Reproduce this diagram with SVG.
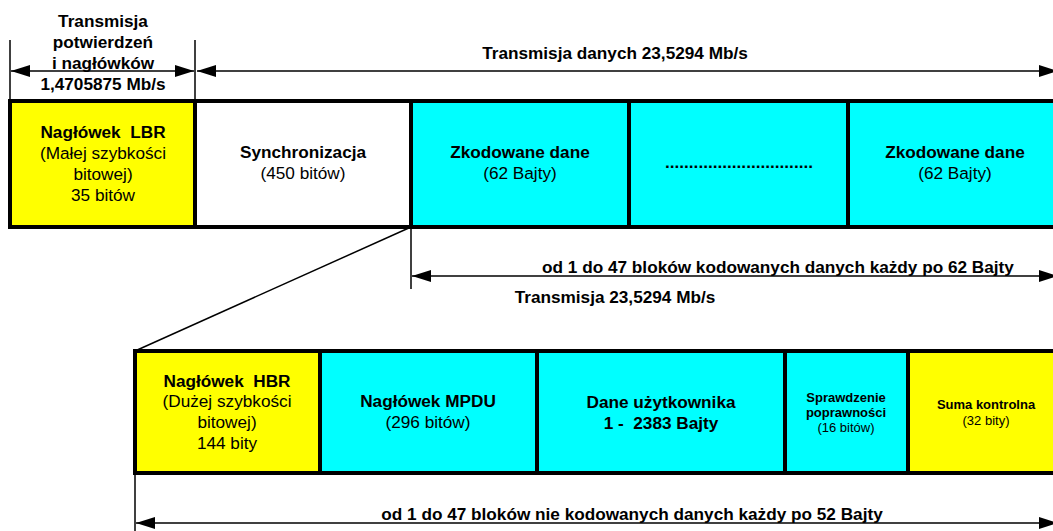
<svg xmlns="http://www.w3.org/2000/svg" width="1053" height="531" viewBox="0 0 1053 531">
<style>
text{font-family:"Liberation Sans",Arial,sans-serif;font-size:17.2px;fill:#000;text-anchor:middle;white-space:pre}
.b{font-weight:bold}
.s{font-size:13px}
.box{stroke:#000;stroke-width:4}
.y{fill:#ffff00}.c{fill:#00ffff}.w{fill:#fff}
.ln{stroke:#000;stroke-width:1.5;fill:none}
</style>
<defs>
<marker id="ah" markerUnits="userSpaceOnUse" markerWidth="19" markerHeight="12" refX="19" refY="6" orient="auto-start-reverse"><path d="M0,0 L19,6 L0,12 z" fill="#000"/></marker>
</defs>
<g id="connectors">
<line class="ln" x1="10" y1="40" x2="10" y2="101"/>
<line class="ln" x1="195" y1="40" x2="195" y2="101"/>
<line class="ln" x1="11" y1="71" x2="194" y2="71" marker-start="url(#ah)" marker-end="url(#ah)"/>
<line class="ln" x1="197" y1="71" x2="1058" y2="71" marker-start="url(#ah)" marker-end="url(#ah)"/>
<line class="ln" x1="411" y1="227" x2="411" y2="289"/>
<line class="ln" x1="411" y1="227" x2="135" y2="351"/>
<line class="ln" x1="412" y1="276" x2="1058" y2="276" marker-start="url(#ah)" marker-end="url(#ah)"/>
<line class="ln" x1="135" y1="473" x2="135" y2="531"/>
<line class="ln" x1="136" y1="523" x2="1058" y2="523" marker-start="url(#ah)" marker-end="url(#ah)"/>
</g>
<g id="labels">
<text class="b" x="103" y="27">Transmisja</text>
<text class="b" x="103" y="48">potwierdzeń</text>
<text class="b" x="103" y="69">i nagłówków</text>
<text class="b" x="103" y="90">1,4705875 Mb/s</text>
<text class="b" x="615" y="59">Transmisja danych 23,5294 Mb/s</text>
<text class="b" x="778" y="273">od 1 do 47 bloków kodowanych danych każdy po 62 Bajty</text>
<text class="b" x="615" y="303">Transmisja 23,5294 Mb/s</text>
<text class="b" x="632" y="520">od 1 do 47 bloków nie kodowanych danych każdy po 52 Bajty</text>
</g>
<g id="lbr">
<rect class="box y" x="10" y="101" width="185" height="126"/>
<text class="b" x="103" y="138">Nagłówek  LBR</text>
<text x="103" y="159">(Małej szybkości</text>
<text x="103" y="180">bitowej)</text>
<text x="103" y="201">35 bitów</text>
</g>
<g id="sync">
<rect class="box w" x="195" y="101" width="216" height="126"/>
<text class="b" x="303" y="158">Synchronizacja</text>
<text x="303" y="179">(450 bitów)</text>
</g>
<g id="coded1">
<rect class="box c" x="411" y="101" width="218" height="126"/>
<text class="b" x="520" y="158">Zkodowane dane</text>
<text x="520" y="179">(62 Bajty)</text>
</g>
<g id="coded-dots">
<rect class="box c" x="629" y="101" width="219" height="126"/>
<text class="b" x="739" y="168">...............................</text>
</g>
<g id="coded2">
<rect class="box c" x="848" y="101" width="216" height="126"/>
<text class="b" x="955" y="158">Zkodowane dane</text>
<text x="955" y="179">(62 Bajty)</text>
</g>
<g id="hbr">
<rect class="box y" x="135" y="351" width="185" height="122"/>
<text class="b" x="227" y="387">Nagłówek  HBR</text>
<text x="227" y="407">(Dużej szybkości</text>
<text x="227" y="428">bitowej)</text>
<text x="227" y="449">144 bity</text>
</g>
<g id="mpdu">
<rect class="box c" x="320" y="351" width="217" height="122"/>
<text class="b" x="428" y="407">Nagłówek MPDU</text>
<text x="428" y="428">(296 bitów)</text>
</g>
<g id="userdata">
<rect class="box c" x="537" y="351" width="248" height="122"/>
<text class="b" x="661" y="408">Dane użytkownika</text>
<text class="b" x="661" y="429">1 -  2383 Bajty</text>
</g>
<g id="check">
<rect class="box c" x="785" y="351" width="123" height="122"/>
<text class="b s" x="846" y="402">Sprawdzenie</text>
<text class="b s" x="846" y="417">poprawności</text>
<text class="s" x="846" y="432">(16 bitów)</text>
</g>
<g id="crc">
<rect class="box y" x="908" y="351" width="156" height="122"/>
<text class="b s" x="986" y="409">Suma kontrolna</text>
<text class="s" x="986" y="425">(32 bity)</text>
</g>
</svg>
